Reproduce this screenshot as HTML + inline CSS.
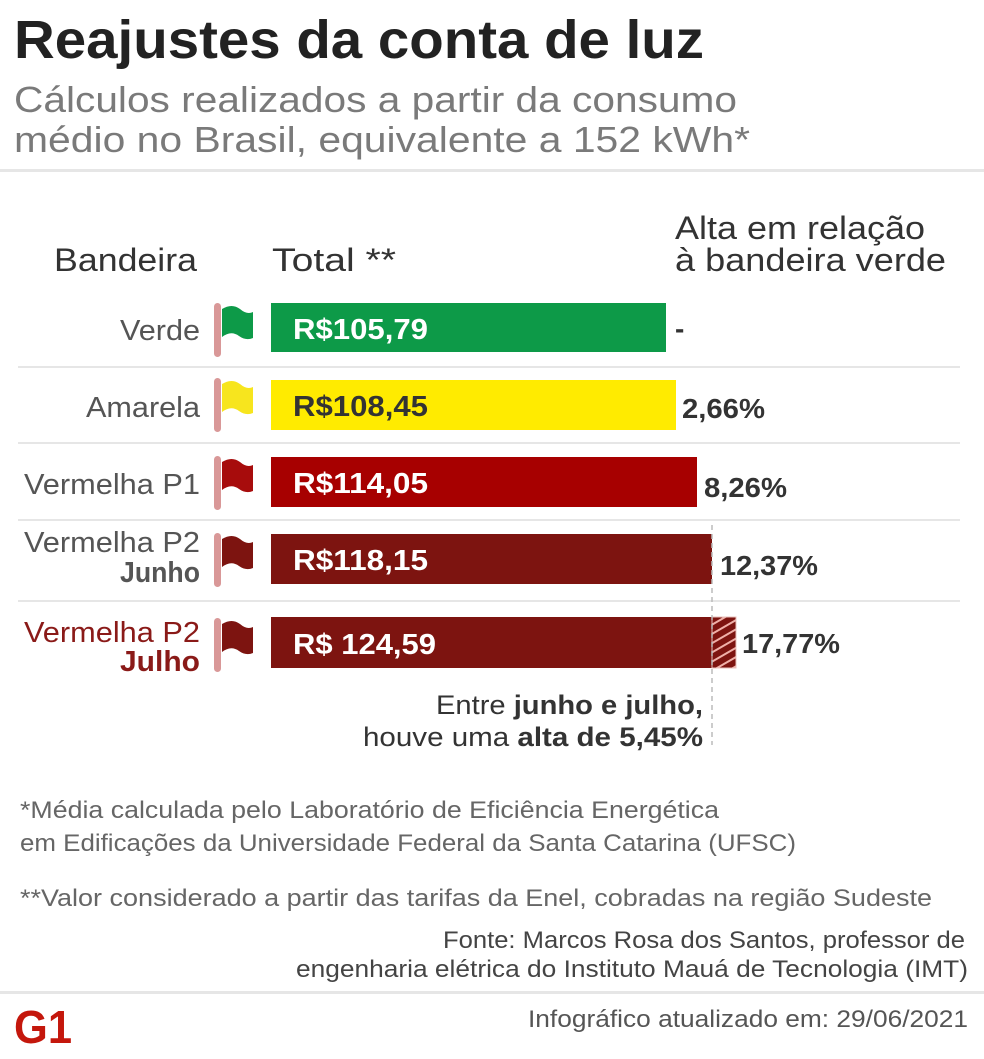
<!DOCTYPE html>
<html><head><meta charset="utf-8"><style>
html,body{margin:0;padding:0;background:#fff;}
svg{display:block;font-family:"Liberation Sans",sans-serif;}
</style></head><body>
<svg width="984" height="1059" viewBox="0 0 984 1059" xmlns="http://www.w3.org/2000/svg">
<defs>
<pattern id="h" width="8" height="8" patternUnits="userSpaceOnUse" patternTransform="rotate(-30)">
<rect width="8" height="8" fill="#7d1410"/><rect width="8" height="2" fill="#f0b0a8"/>
</pattern>
</defs>
<rect width="984" height="1059" fill="#fff"/>
<text x="14" y="58" font-size="54" font-weight="bold" fill="#222" textLength="690" lengthAdjust="spacingAndGlyphs">Reajustes da conta de luz</text>
<text x="14" y="112" font-size="36" fill="#7a7a7a" textLength="723" lengthAdjust="spacingAndGlyphs">Cálculos realizados a partir da consumo</text>
<text x="14" y="152" font-size="36" fill="#7a7a7a" textLength="736" lengthAdjust="spacingAndGlyphs">médio no Brasil, equivalente a 152 kWh*</text>
<rect x="0" y="169" width="984" height="3" fill="#e6e6e6"/>
<g font-size="32" fill="#333">
<text x="54" y="271" textLength="143" lengthAdjust="spacingAndGlyphs">Bandeira</text>
<text x="272" y="271" textLength="124" lengthAdjust="spacingAndGlyphs">Total **</text>
<text x="675" y="239" textLength="250" lengthAdjust="spacingAndGlyphs">Alta em relação</text>
<text x="675" y="271" textLength="271" lengthAdjust="spacingAndGlyphs">à bandeira verde</text>
</g>
<g fill="#e6e6e6">
<rect x="18" y="366" width="942" height="2"/>
<rect x="18" y="442" width="942" height="2"/>
<rect x="18" y="519" width="942" height="2"/>
<rect x="18" y="600" width="942" height="2"/>
</g>
<g font-size="29" fill="#555" text-anchor="end">
<text x="200" y="340" textLength="80" lengthAdjust="spacingAndGlyphs">Verde</text>
<text x="200" y="417" textLength="114" lengthAdjust="spacingAndGlyphs">Amarela</text>
<text x="200" y="494" textLength="176" lengthAdjust="spacingAndGlyphs">Vermelha P1</text>
<text x="200" y="552" textLength="176" lengthAdjust="spacingAndGlyphs">Vermelha P2</text>
<text x="200" y="582" font-weight="bold" textLength="80" lengthAdjust="spacingAndGlyphs">Junho</text>
<text x="200" y="642" fill="#8a1a18" textLength="176" lengthAdjust="spacingAndGlyphs">Vermelha P2</text>
<text x="200" y="671" fill="#8a1a18" font-weight="bold" textLength="80" lengthAdjust="spacingAndGlyphs">Julho</text>
</g>
<g>
<rect x="214" y="303" width="7" height="54" rx="3.5" fill="#d99898"/>
<path d="M222 309 Q232 303 240 309 Q247 315 253 312 L253 338 Q246 341 239 336 Q231 330 222 337 Z" fill="#0d9a48"/>
<rect x="214" y="378" width="7" height="54" rx="3.5" fill="#d99898"/>
<path d="M222 384 Q232 378 240 384 Q247 390 253 387 L253 413 Q246 416 239 411 Q231 405 222 412 Z" fill="#f7e51e"/>
<rect x="214" y="456" width="7" height="54" rx="3.5" fill="#d99898"/>
<path d="M222 462 Q232 456 240 462 Q247 468 253 465 L253 491 Q246 494 239 489 Q231 483 222 490 Z" fill="#a70c0c"/>
<rect x="214" y="533" width="7" height="54" rx="3.5" fill="#d99898"/>
<path d="M222 539 Q232 533 240 539 Q247 545 253 542 L253 568 Q246 571 239 566 Q231 560 222 567 Z" fill="#7d1410"/>
<rect x="214" y="618" width="7" height="54" rx="3.5" fill="#d99898"/>
<path d="M222 624 Q232 618 240 624 Q247 630 253 627 L253 653 Q246 656 239 651 Q231 645 222 652 Z" fill="#7d1410"/>
</g>
<rect x="271" y="303" width="395" height="49" fill="#0d9a48"/>
<rect x="271" y="380" width="405" height="50" fill="#ffeb00"/>
<rect x="271" y="457" width="426" height="50" fill="#a70000"/>
<rect x="271" y="534" width="441" height="50" fill="#7d1410"/>
<rect x="271" y="617" width="441" height="51" fill="#7d1410"/>
<rect x="712" y="617" width="24" height="51" fill="url(#h)" stroke="#e8c0bb" stroke-width="1"/>
<line x1="712" y1="525" x2="712" y2="745" stroke="#bbb" stroke-width="1.5" stroke-dasharray="5,4"/>
<g font-size="29" font-weight="bold" fill="#fff">
<text x="293" y="339" textLength="135" lengthAdjust="spacingAndGlyphs">R$105,79</text>
<text x="293" y="416" fill="#333" textLength="135" lengthAdjust="spacingAndGlyphs">R$108,45</text>
<text x="293" y="493" textLength="135" lengthAdjust="spacingAndGlyphs">R$114,05</text>
<text x="293" y="570" textLength="135" lengthAdjust="spacingAndGlyphs">R$118,15</text>
<text x="293" y="654" textLength="143" lengthAdjust="spacingAndGlyphs">R$ 124,59</text>
</g>
<g font-size="28" font-weight="bold" fill="#333">
<text x="675" y="338">-</text>
<text x="682" y="418" textLength="83" lengthAdjust="spacingAndGlyphs">2,66%</text>
<text x="704" y="497" textLength="83" lengthAdjust="spacingAndGlyphs">8,26%</text>
<text x="720" y="575" textLength="98" lengthAdjust="spacingAndGlyphs">12,37%</text>
<text x="742" y="653" textLength="98" lengthAdjust="spacingAndGlyphs">17,77%</text>
</g>
<g font-size="27" fill="#333">
<text x="436" y="714" textLength="267" lengthAdjust="spacingAndGlyphs">Entre <tspan font-weight="bold">junho e julho,</tspan></text>
<text x="363" y="746" textLength="340" lengthAdjust="spacingAndGlyphs">houve uma <tspan font-weight="bold">alta de 5,45%</tspan></text>
</g>
<g font-size="24" fill="#666">
<text x="20" y="818" textLength="699" lengthAdjust="spacingAndGlyphs">*Média calculada pelo Laboratório de Eficiência Energética</text>
<text x="20" y="851" textLength="776" lengthAdjust="spacingAndGlyphs">em Edificações da Universidade Federal da Santa Catarina (UFSC)</text>
<text x="20" y="906" textLength="912" lengthAdjust="spacingAndGlyphs">**Valor considerado a partir das tarifas da Enel, cobradas na região Sudeste</text>
</g>
<g font-size="24" fill="#444">
<text x="443" y="948" textLength="522" lengthAdjust="spacingAndGlyphs">Fonte: Marcos Rosa dos Santos, professor de</text>
<text x="296" y="977" textLength="672" lengthAdjust="spacingAndGlyphs">engenharia elétrica do Instituto Mauá de Tecnologia (IMT)</text>
</g>
<rect x="0" y="991" width="984" height="3" fill="#e6e6e6"/>
<text x="14" y="1043" font-size="46" font-weight="bold" fill="#c4170c" textLength="58" lengthAdjust="spacingAndGlyphs">G1</text>
<text x="528" y="1027" font-size="24" fill="#555" textLength="440" lengthAdjust="spacingAndGlyphs">Infográfico atualizado em: 29/06/2021</text>
</svg>
</body></html>
